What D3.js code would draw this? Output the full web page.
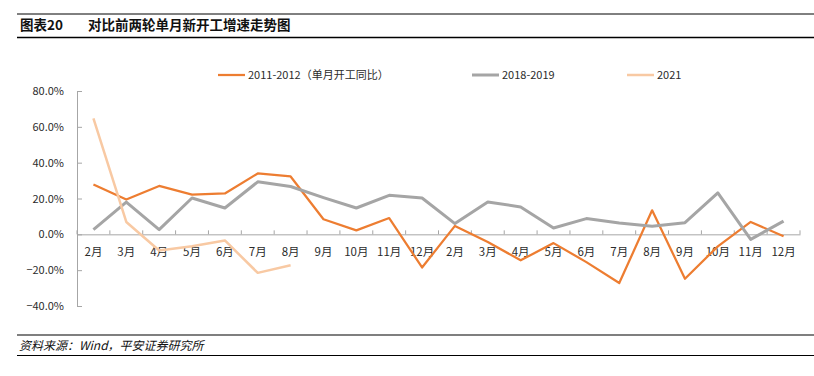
<!DOCTYPE html>
<html>
<head>
<meta charset="utf-8">
<script src="https://cdn.jsdelivr.net/npm/d3@7"></script>
<style>
  body { margin: 0; background: #fff; }
  text { font-family: "Noto Sans CJK SC", "Noto Sans", sans-serif; }
</style>
</head>
<body>
<script>
// month labels along the x axis (two cycles)
const months = ["2月", "3月", "4月", "5月", "6月", "7月", "8月", "9月", "10月", "11月", "12月",
  "2月", "3月", "4月", "5月", "6月", "7月", "8月", "9月", "10月", "11月", "12月"];

// values in %
const cycle2011 = [27.8, 19.4, 27, 22.2, 22.8, 34, 32.3, 8.4, 2.2, 9.1, -18.5,
  4.7, -4.3, -14.5, -4.9, -15.5, -27.2, 13.4, -24.8, -6.7, 6.9, -1.1];
const cycle2018 = [2.6, 18, 2.6, 20.3, 14.7, 29.3, 26.7, 20.5, 14.7, 21.8, 20.3,
  6, 18, 15.3, 3.5, 8.8, 6.3, 4.5, 6.5, 23.1, -2.8, 7.4];
const year2021 = [64.7, 6.9, -9, -6.7, -3.4, -21.5, -17.3];

const yTicks = [-40, -20, 0, 20, 40, 60, 80];

const series = [
  { name: "2011-2012（单月开工同比）", values: cycle2011, color: "#ED7D31", width: 2.25, lx: 218 },
  { name: "2018-2019", values: cycle2018, color: "#A5A5A5", width: 3, lx: 472 },
  { name: "2021", values: year2021, color: "#F8C9A3", width: 2.5, lx: 627 }
];

const width = 814, height = 376;
const svg = d3.select("body").append("svg")
  .attr("width", width)
  .attr("height", height);

// title block
svg.append("line").attr("x1", 17).attr("x2", width).attr("y1", 14).attr("y2", 14)
  .attr("stroke", "#000").attr("stroke-width", 1);
svg.append("line").attr("x1", 17).attr("x2", width).attr("y1", 37.5).attr("y2", 37.5)
  .attr("stroke", "#000").attr("stroke-width", 1.3);
svg.append("text").attr("x", 20).attr("y", 30)
  .attr("font-size", 13.5).attr("font-weight", 700).attr("fill", "#111")
  .text("图表20");
svg.append("text").attr("x", 88).attr("y", 30)
  .attr("font-size", 13.5).attr("font-weight", 700).attr("fill", "#111")
  .text("对比前两轮单月新开工增速走势图");

// footer
svg.append("line").attr("x1", 17).attr("x2", width).attr("y1", 335).attr("y2", 335)
  .attr("stroke", "#000").attr("stroke-width", 1.2);
svg.append("line").attr("x1", 17).attr("x2", width).attr("y1", 355.5).attr("y2", 355.5)
  .attr("stroke", "#000").attr("stroke-width", 1.2);
svg.append("text").attr("x", 19).attr("y", 350)
  .attr("font-size", 12).attr("font-style", "italic").attr("fill", "#111")
  .text("资料来源：Wind，平安证券研究所");

// scales
const x = d3.scaleBand()
  .domain(months.map((d, i) => i))
  .range([77, 800]);
const y = d3.scaleLinear()
  .domain([-40, 80])
  .range([306, 91]);

// y axis
const yAxis = d3.axisLeft(y)
  .tickValues(yTicks)
  .tickSize(-5)
  .tickPadding(13)
  .tickFormat((d) => d3.format(".1f")(d) + "%");
const gy = svg.append("g")
  .attr("transform", "translate(77,0)")
  .call(yAxis);
gy.select(".domain").attr("stroke", "#A6A6A6");
gy.selectAll(".tick line").attr("stroke", "#A6A6A6");
gy.selectAll(".tick text")
  .attr("font-size", 11).attr("fill", "#2b2b2b")
  .attr("font-family", "Liberation Sans, Arial, sans-serif");

// x axis: labels at band centres, ticks at band edges
const xAxis = d3.axisBottom(x)
  .tickSize(0)
  .tickPadding(14)
  .tickFormat((i) => months[i]);
const gx = svg.append("g")
  .attr("transform", `translate(0,${y(0)})`)
  .call(xAxis);
gx.select(".domain").attr("stroke", "#A6A6A6");
gx.selectAll(".tick text")
  .attr("font-size", 11.5).attr("fill", "#2b2b2b");
gx.selectAll(".edge")
  .data(d3.range(months.length + 1))
  .enter()
  .append("line")
  .attr("class", "edge")
  .attr("x1", (i) => x.range()[0] + i * x.step())
  .attr("x2", (i) => x.range()[0] + i * x.step())
  .attr("y1", 0)
  .attr("y2", -4)
  .attr("stroke", "#A6A6A6");

// lines
const line = d3.line()
  .x((d, i) => x(i) + x.bandwidth() / 2)
  .y((d) => y(d));

series.forEach((s) => {
  svg.append("path")
    .datum(s.values)
    .attr("fill", "none")
    .attr("stroke", s.color)
    .attr("stroke-width", s.width)
    .attr("stroke-linejoin", "round")
    .attr("d", line);
});

// legend
const legend = svg.selectAll(".legend")
  .data(series)
  .enter()
  .append("g")
  .attr("class", "legend")
  .attr("transform", (d) => `translate(${d.lx},75)`);
legend.append("line")
  .attr("x1", 0).attr("x2", 27)
  .attr("stroke", (d) => d.color)
  .attr("stroke-width", (d) => d.width);
legend.append("text")
  .attr("x", 30).attr("dy", "0.35em")
  .attr("font-size", 11).attr("fill", "#2b2b2b")
  .text((d) => d.name);
</script>
</body>
</html>
